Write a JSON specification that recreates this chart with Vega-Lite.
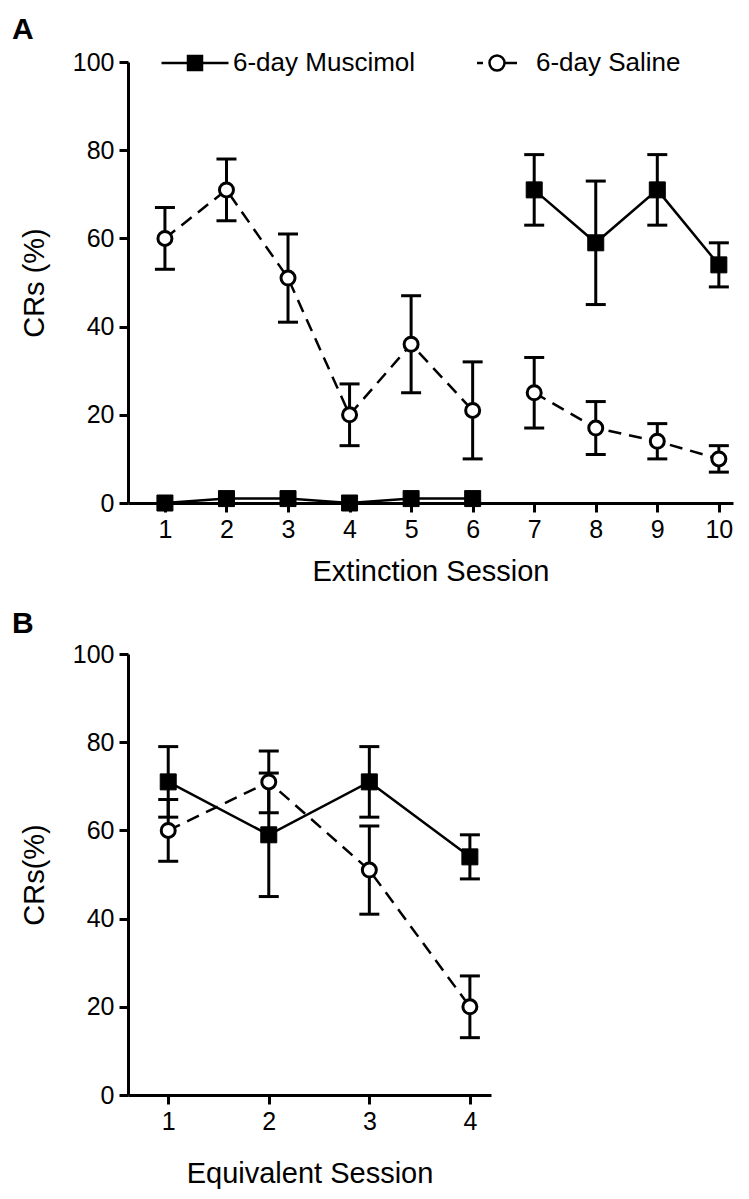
{
  "$schema": "https://vega.github.io/schema/vega-lite/v6.json",
  "padding": {"left": 12, "top": 15, "right": 5, "bottom": 5},
  "background": "white",
  "config": {
    "font": "Liberation Sans",
    "view": {"stroke": null},
    "axis": {"domainColor": "black", "domainWidth": 3, "tickColor": "black", "tickWidth": 3, "tickSize": 9, "labelColor": "black", "labelFontSize": 25, "labelFont": "Liberation Sans", "titleFont": "Liberation Sans", "titleFontSize": 29, "titleFontWeight": "normal", "titleColor": "black", "grid": false},
    "axisX": {"labelPadding": 5},
    "axisY": {"labelPadding": 5},
    "legend": {"labelFont": "Liberation Sans", "labelFontSize": 26, "labelColor": "black", "labelLimit": 400, "padding": 0, "title": null, "orient": "none", "symbolSize": 400, "symbolStrokeColor": "black", "symbolStrokeWidth": 2.5, "symbolOpacity": 1},
    "title": {"font": "Liberation Sans", "fontSize": 30, "fontWeight": "bold", "color": "black", "anchor": "start", "frame": "group"}
  },
  "datasets": {
    "A": [
      {"group": "6-day Saline", "seg": "s1", "session": 1, "value": 60, "lo": 53, "hi": 67},
      {"group": "6-day Saline", "seg": "s1", "session": 2, "value": 71, "lo": 64, "hi": 78},
      {"group": "6-day Saline", "seg": "s1", "session": 3, "value": 51, "lo": 41, "hi": 61},
      {"group": "6-day Saline", "seg": "s1", "session": 4, "value": 20, "lo": 13, "hi": 27},
      {"group": "6-day Saline", "seg": "s1", "session": 5, "value": 36, "lo": 25, "hi": 47},
      {"group": "6-day Saline", "seg": "s1", "session": 6, "value": 21, "lo": 10, "hi": 32},
      {"group": "6-day Saline", "seg": "s2", "session": 7, "value": 25, "lo": 17, "hi": 33},
      {"group": "6-day Saline", "seg": "s2", "session": 8, "value": 17, "lo": 11, "hi": 23},
      {"group": "6-day Saline", "seg": "s2", "session": 9, "value": 14, "lo": 10, "hi": 18},
      {"group": "6-day Saline", "seg": "s2", "session": 10, "value": 10, "lo": 7, "hi": 13},
      {"group": "6-day Muscimol", "seg": "m1", "session": 1, "value": 0, "lo": null, "hi": null},
      {"group": "6-day Muscimol", "seg": "m1", "session": 2, "value": 1, "lo": null, "hi": null},
      {"group": "6-day Muscimol", "seg": "m1", "session": 3, "value": 1, "lo": null, "hi": null},
      {"group": "6-day Muscimol", "seg": "m1", "session": 4, "value": 0, "lo": null, "hi": null},
      {"group": "6-day Muscimol", "seg": "m1", "session": 5, "value": 1, "lo": null, "hi": null},
      {"group": "6-day Muscimol", "seg": "m1", "session": 6, "value": 1, "lo": null, "hi": null},
      {"group": "6-day Muscimol", "seg": "m2", "session": 7, "value": 71, "lo": 63, "hi": 79},
      {"group": "6-day Muscimol", "seg": "m2", "session": 8, "value": 59, "lo": 45, "hi": 73},
      {"group": "6-day Muscimol", "seg": "m2", "session": 9, "value": 71, "lo": 63, "hi": 79},
      {"group": "6-day Muscimol", "seg": "m2", "session": 10, "value": 54, "lo": 49, "hi": 59}
    ],
    "B": [
      {"group": "6-day Muscimol", "seg": "m", "session": 1, "value": 71, "lo": 63, "hi": 79},
      {"group": "6-day Muscimol", "seg": "m", "session": 2, "value": 59, "lo": 45, "hi": 73},
      {"group": "6-day Muscimol", "seg": "m", "session": 3, "value": 71, "lo": 63, "hi": 79},
      {"group": "6-day Muscimol", "seg": "m", "session": 4, "value": 54, "lo": 49, "hi": 59},
      {"group": "6-day Saline", "seg": "s", "session": 1, "value": 60, "lo": 53, "hi": 67},
      {"group": "6-day Saline", "seg": "s", "session": 2, "value": 71, "lo": 64, "hi": 78},
      {"group": "6-day Saline", "seg": "s", "session": 3, "value": 51, "lo": 41, "hi": 61},
      {"group": "6-day Saline", "seg": "s", "session": 4, "value": 20, "lo": 13, "hi": 27}
    ]
  },
  "bounds": "flush",
  "spacing": 151,
  "resolve": {
    "scale": {"x": "independent", "y": "independent", "color": "independent"},
    "legend": {"color": "independent"}
  },
  "vconcat": [
    {
      "width": 605,
      "height": 441,
      "title": {"text": "A", "dx": -116, "offset": 5},
      "data": {"name": "A"},
      "resolve": {"scale": {"color": "independent"}, "legend": {"color": "independent"}},
      "encoding": {
        "x": {"field": "session", "type": "quantitative", "scale": {"domain": [0.4, 10.23], "nice": false, "zero": false}, "axis": {"values": [1, 2, 3, 4, 5, 6, 7, 8, 9, 10], "title": "Extinction Session", "titlePadding": 15}}
      },
      "layer": [
        {
          "transform": [{"filter": "datum.lo != null"}],
          "mark": {"type": "rule", "color": "black", "strokeWidth": 3},
          "encoding": {
            "y": {"field": "lo", "type": "quantitative", "scale": {"domain": [0, 100], "nice": false}, "axis": {"values": [0, 20, 40, 60, 80, 100], "title": "CRs (%)", "titlePadding": 23}},
            "y2": {"field": "hi"}
          }
        },
        {
          "transform": [{"filter": "datum.lo != null"}],
          "mark": {"type": "tick", "orient": "horizontal", "color": "black", "size": 20, "thickness": 3, "opacity": 1},
          "encoding": {"y": {"field": "lo", "type": "quantitative", "axis": {"values": [0, 20, 40, 60, 80, 100], "title": "CRs (%)", "titlePadding": 23}}}
        },
        {
          "transform": [{"filter": "datum.lo != null"}],
          "mark": {"type": "tick", "orient": "horizontal", "color": "black", "size": 20, "thickness": 3, "opacity": 1},
          "encoding": {"y": {"field": "hi", "type": "quantitative", "axis": {"values": [0, 20, 40, 60, 80, 100], "title": "CRs (%)", "titlePadding": 23}}}
        },
        {
          "transform": [{"filter": "datum.group === '6-day Muscimol'"}],
          "mark": {"type": "line", "color": "black", "strokeWidth": 2.5},
          "encoding": {
            "y": {"field": "value", "type": "quantitative", "axis": {"values": [0, 20, 40, 60, 80, 100], "title": "CRs (%)", "titlePadding": 23}},
            "detail": {"field": "seg"}
          }
        },
        {
          "transform": [{"filter": "datum.group === '6-day Saline'"}],
          "mark": {"type": "line", "color": "black", "strokeWidth": 2.5, "strokeDash": [13, 8]},
          "encoding": {
            "y": {"field": "value", "type": "quantitative", "axis": {"values": [0, 20, 40, 60, 80, 100], "title": "CRs (%)", "titlePadding": 23}},
            "detail": {"field": "seg"}
          }
        },
        {
          "transform": [{"filter": "datum.group === '6-day Muscimol'"}],
          "mark": {"type": "point", "shape": "square", "filled": true, "size": 256, "stroke": "black", "strokeWidth": 1, "opacity": 1},
          "encoding": {
            "y": {"field": "value", "type": "quantitative", "axis": {"values": [0, 20, 40, 60, 80, 100], "title": "CRs (%)", "titlePadding": 23}},
            "color": {
              "field": "group", "type": "nominal",
              "scale": {"domain": ["6-day Muscimol"], "range": ["black"]},
              "legend": {
                "orient": "none", "legendX": 54, "legendY": -12, "title": null,
                "symbolType": "M-3.35,0H-0.7M0.7,0H3.35M-0.7,-0.7H0.7V0.7H-0.7Z",
                "symbolSize": 400, "symbolFillColor": "black", "symbolStrokeColor": "black", "symbolStrokeWidth": 2.5,
                "labelOffset": 25
              }
            }
          }
        },
        {
          "transform": [{"filter": "datum.group === '6-day Saline'"}],
          "mark": {"type": "point", "shape": "circle", "filled": true, "size": 196, "stroke": "black", "strokeWidth": 3, "opacity": 1},
          "encoding": {
            "y": {"field": "value", "type": "quantitative", "axis": {"values": [0, 20, 40, 60, 80, 100], "title": "CRs (%)", "titlePadding": 23}},
            "color": {
              "field": "group", "type": "nominal",
              "scale": {"domain": ["6-day Saline"], "range": ["white"]},
              "legend": {
                "orient": "none", "legendX": 356, "legendY": -12, "title": null,
                "symbolType": "M-2,0H-1.4M0.75,0A0.75,0.75,0,1,1,-0.75,0A0.75,0.75,0,1,1,0.75,0ZM0.75,0H2",
                "symbolSize": 400, "symbolFillColor": "white", "symbolStrokeColor": "black", "symbolStrokeWidth": 2.5,
                "labelOffset": 26
              }
            }
          }
        }
      ]
    },
    {
      "width": 363,
      "height": 441,
      "title": {"text": "B", "dx": -116, "offset": 3},
      "data": {"name": "B"},
      "encoding": {
        "x": {"field": "session", "type": "quantitative", "scale": {"domain": [0.6, 4.21], "nice": false, "zero": false}, "axis": {"values": [1, 2, 3, 4], "title": "Equivalent Session", "titlePadding": 25}}
      },
      "layer": [
        {
          "mark": {"type": "rule", "color": "black", "strokeWidth": 3},
          "encoding": {
            "y": {"field": "lo", "type": "quantitative", "scale": {"domain": [0, 100], "nice": false}, "axis": {"values": [0, 20, 40, 60, 80, 100], "title": "CRs(%)", "titlePadding": 23}},
            "y2": {"field": "hi"}
          }
        },
        {
          "mark": {"type": "tick", "orient": "horizontal", "color": "black", "size": 20, "thickness": 3, "opacity": 1},
          "encoding": {"y": {"field": "lo", "type": "quantitative", "axis": {"values": [0, 20, 40, 60, 80, 100], "title": "CRs(%)", "titlePadding": 23}}}
        },
        {
          "mark": {"type": "tick", "orient": "horizontal", "color": "black", "size": 20, "thickness": 3, "opacity": 1},
          "encoding": {"y": {"field": "hi", "type": "quantitative", "axis": {"values": [0, 20, 40, 60, 80, 100], "title": "CRs(%)", "titlePadding": 23}}}
        },
        {
          "transform": [{"filter": "datum.group === '6-day Muscimol'"}],
          "mark": {"type": "line", "color": "black", "strokeWidth": 2.5},
          "encoding": {
            "y": {"field": "value", "type": "quantitative", "axis": {"values": [0, 20, 40, 60, 80, 100], "title": "CRs(%)", "titlePadding": 23}}
          }
        },
        {
          "transform": [{"filter": "datum.group === '6-day Saline'"}],
          "mark": {"type": "line", "color": "black", "strokeWidth": 2.5, "strokeDash": [13, 8]},
          "encoding": {
            "y": {"field": "value", "type": "quantitative", "axis": {"values": [0, 20, 40, 60, 80, 100], "title": "CRs(%)", "titlePadding": 23}}
          }
        },
        {
          "transform": [{"filter": "datum.group === '6-day Muscimol'"}],
          "mark": {"type": "point", "shape": "square", "filled": true, "fill": "black", "size": 256, "stroke": "black", "strokeWidth": 1, "opacity": 1},
          "encoding": {
            "y": {"field": "value", "type": "quantitative", "axis": {"values": [0, 20, 40, 60, 80, 100], "title": "CRs(%)", "titlePadding": 23}}
          }
        },
        {
          "transform": [{"filter": "datum.group === '6-day Saline'"}],
          "mark": {"type": "point", "shape": "circle", "filled": true, "fill": "white", "size": 196, "stroke": "black", "strokeWidth": 3, "opacity": 1},
          "encoding": {
            "y": {"field": "value", "type": "quantitative", "axis": {"values": [0, 20, 40, 60, 80, 100], "title": "CRs(%)", "titlePadding": 23}}
          }
        }
      ]
    }
  ]
}
